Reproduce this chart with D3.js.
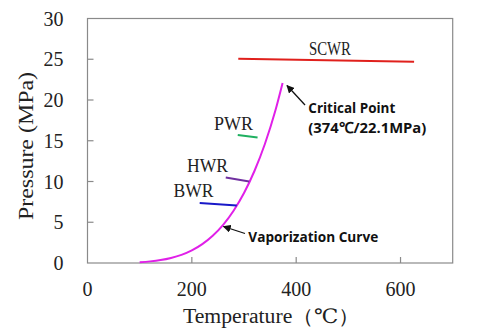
<!DOCTYPE html>
<html><head><meta charset="utf-8">
<script src="https://cdn.jsdelivr.net/npm/d3@7"></script>
<style>
body{margin:0;background:#fff;}
svg{display:block;}
.serif{font-family:"Liberation Serif","DejaVu Serif",serif;fill:#222;}
.ann{font-family:"Open Sans","Liberation Sans",sans-serif;font-weight:bold;fill:#111;}
</style></head>
<body>
<svg id="c" width="480" height="335"></svg>
<script>
// Saturation (vaporization) curve: temperature (°C) and pressure (MPa)
const vapT = [100, 120, 140, 160, 180, 200, 220, 240, 260, 280, 300, 320, 340, 360, 374];
const vapP = [0.10, 0.20, 0.36, 0.62, 1.00, 1.55, 2.32, 3.35, 4.69, 6.42, 8.59, 11.29, 14.60, 18.67, 22.1];

// Reactor operating segments: [T start, T end], [P start, P end]
const reactors = ["SCWR", "PWR", "HWR", "BWR"];
const reactorT = [[289, 626], [288, 326], [265, 310], [215, 286]];
const reactorP = [[25.05, 24.7], [15.7, 15.4], [10.5, 10.0], [7.35, 7.05]];
const reactorColors = ["#e0201c", "#1fb060", "#7030a0", "#1818c8"];

const xTicks = [0, 200, 400, 600];
const yTicks = [0, 5, 10, 15, 20, 25, 30];

const svg = d3.select("#c");
const L = 87.5, R = 452.7, T = 18.5, B = 263;
const x = d3.scaleLinear().domain([0, 700]).range([L, R]);
const y = d3.scaleLinear().domain([0, 30]).range([B, T]);

// frame
svg.append("rect").attr("x", L).attr("y", T).attr("width", R - L).attr("height", B - T)
  .attr("fill", "none").attr("stroke", "#8a8a8a").attr("stroke-width", 1.2);

// ticks (inward)
svg.append("g").selectAll("line").data(yTicks.slice(1, -1)).join("line")
  .attr("x1", L).attr("x2", L + 6).attr("y1", d => y(d)).attr("y2", d => y(d))
  .attr("stroke", "#8a8a8a").attr("stroke-width", 1.2);
svg.append("g").selectAll("line").data(xTicks.slice(1)).join("line")
  .attr("x1", d => x(d)).attr("x2", d => x(d)).attr("y1", B).attr("y2", B - 6)
  .attr("stroke", "#8a8a8a").attr("stroke-width", 1.2);

// tick labels
svg.append("g").selectAll("text").data(yTicks).join("text").attr("class", "serif")
  .attr("x", 63.5).attr("y", d => y(d)).attr("dy", "0.35em").attr("text-anchor", "end")
  .attr("font-size", 20).text(d => d);
svg.append("g").selectAll("text").data(xTicks).join("text").attr("class", "serif")
  .attr("x", d => x(d)).attr("y", 295.5).attr("text-anchor", "middle")
  .attr("font-size", 20).text(d => d);

// axis titles
svg.append("text").attr("class", "serif").attr("font-size", 20)
  .attr("transform", "translate(33,146) rotate(-90)").attr("text-anchor", "middle")
  .attr("textLength", 148).attr("lengthAdjust", "spacingAndGlyphs").text("Pressure (MPa)");
svg.append("text").attr("class", "serif").attr("font-size", 20)
  .attr("x", 183).attr("y", 323).attr("textLength", 177).attr("lengthAdjust", "spacingAndGlyphs")
  .text("Temperature（℃）");

// vaporization curve
const vapData = vapT.map((t, i) => [t, vapP[i]]);
svg.append("path").datum(vapData)
  .attr("d", d3.line().x(d => x(d[0])).y(d => y(d[1])).curve(d3.curveMonotoneX))
  .attr("fill", "none").attr("stroke", "#e020e8").attr("stroke-width", 2);

// reactor segments
reactors.forEach((r, i) => {
  svg.append("line")
    .attr("x1", x(reactorT[i][0])).attr("x2", x(reactorT[i][1]))
    .attr("y1", y(reactorP[i][0])).attr("y2", y(reactorP[i][1]))
    .attr("stroke", reactorColors[i]).attr("stroke-width", 2);
});

// reactor labels
const labelPos = { SCWR: [330, 55, 42, "middle"], PWR: [214, 130, 39, "start"], HWR: [187, 171.7, 41, "start"], BWR: [173.5, 196.7, 40, "start"] };
reactors.forEach(r => {
  const p = labelPos[r];
  svg.append("text").attr("class", "serif").attr("font-size", 18.5)
    .attr("x", p[3] === "middle" ? p[0] - p[2] / 2 : p[0]).attr("y", p[1])
    .attr("textLength", p[2]).attr("lengthAdjust", "spacingAndGlyphs").text(r);
});

// arrows
const defs = svg.append("defs");
defs.append("marker").attr("id", "ah").attr("viewBox", "0 0 10 10").attr("refX", 9).attr("refY", 5)
  .attr("markerWidth", 8).attr("markerHeight", 8).attr("orient", "auto-start-reverse")
  .attr("markerUnits", "userSpaceOnUse")
  .append("path").attr("d", "M0,0 L10,5 L0,10 z").attr("fill", "#111");

svg.append("line").attr("x1", 305).attr("y1", 105).attr("x2", 287).attr("y2", 85.5)
  .attr("stroke", "#111").attr("stroke-width", 1.3).attr("marker-end", "url(#ah)");
svg.append("line").attr("x1", 245).attr("y1", 233.5).attr("x2", 223.5).attr("y2", 226.5)
  .attr("stroke", "#111").attr("stroke-width", 1.3).attr("marker-end", "url(#ah)");

// annotation texts
svg.append("text").attr("class", "ann").attr("font-size", 15).attr("x", 308.3).attr("y", 113.3)
  .attr("textLength", 87).attr("lengthAdjust", "spacingAndGlyphs").text("Critical Point");
svg.append("text").attr("class", "ann").attr("font-size", 15).attr("x", 308.3).attr("y", 133.3)
  .attr("textLength", 118).attr("lengthAdjust", "spacingAndGlyphs").text("(374℃/22.1MPa)");
svg.append("text").attr("class", "ann").attr("font-size", 15).attr("x", 248.3).attr("y", 242.3)
  .attr("textLength", 130).attr("lengthAdjust", "spacingAndGlyphs").text("Vaporization Curve");
</script>
</body></html>
